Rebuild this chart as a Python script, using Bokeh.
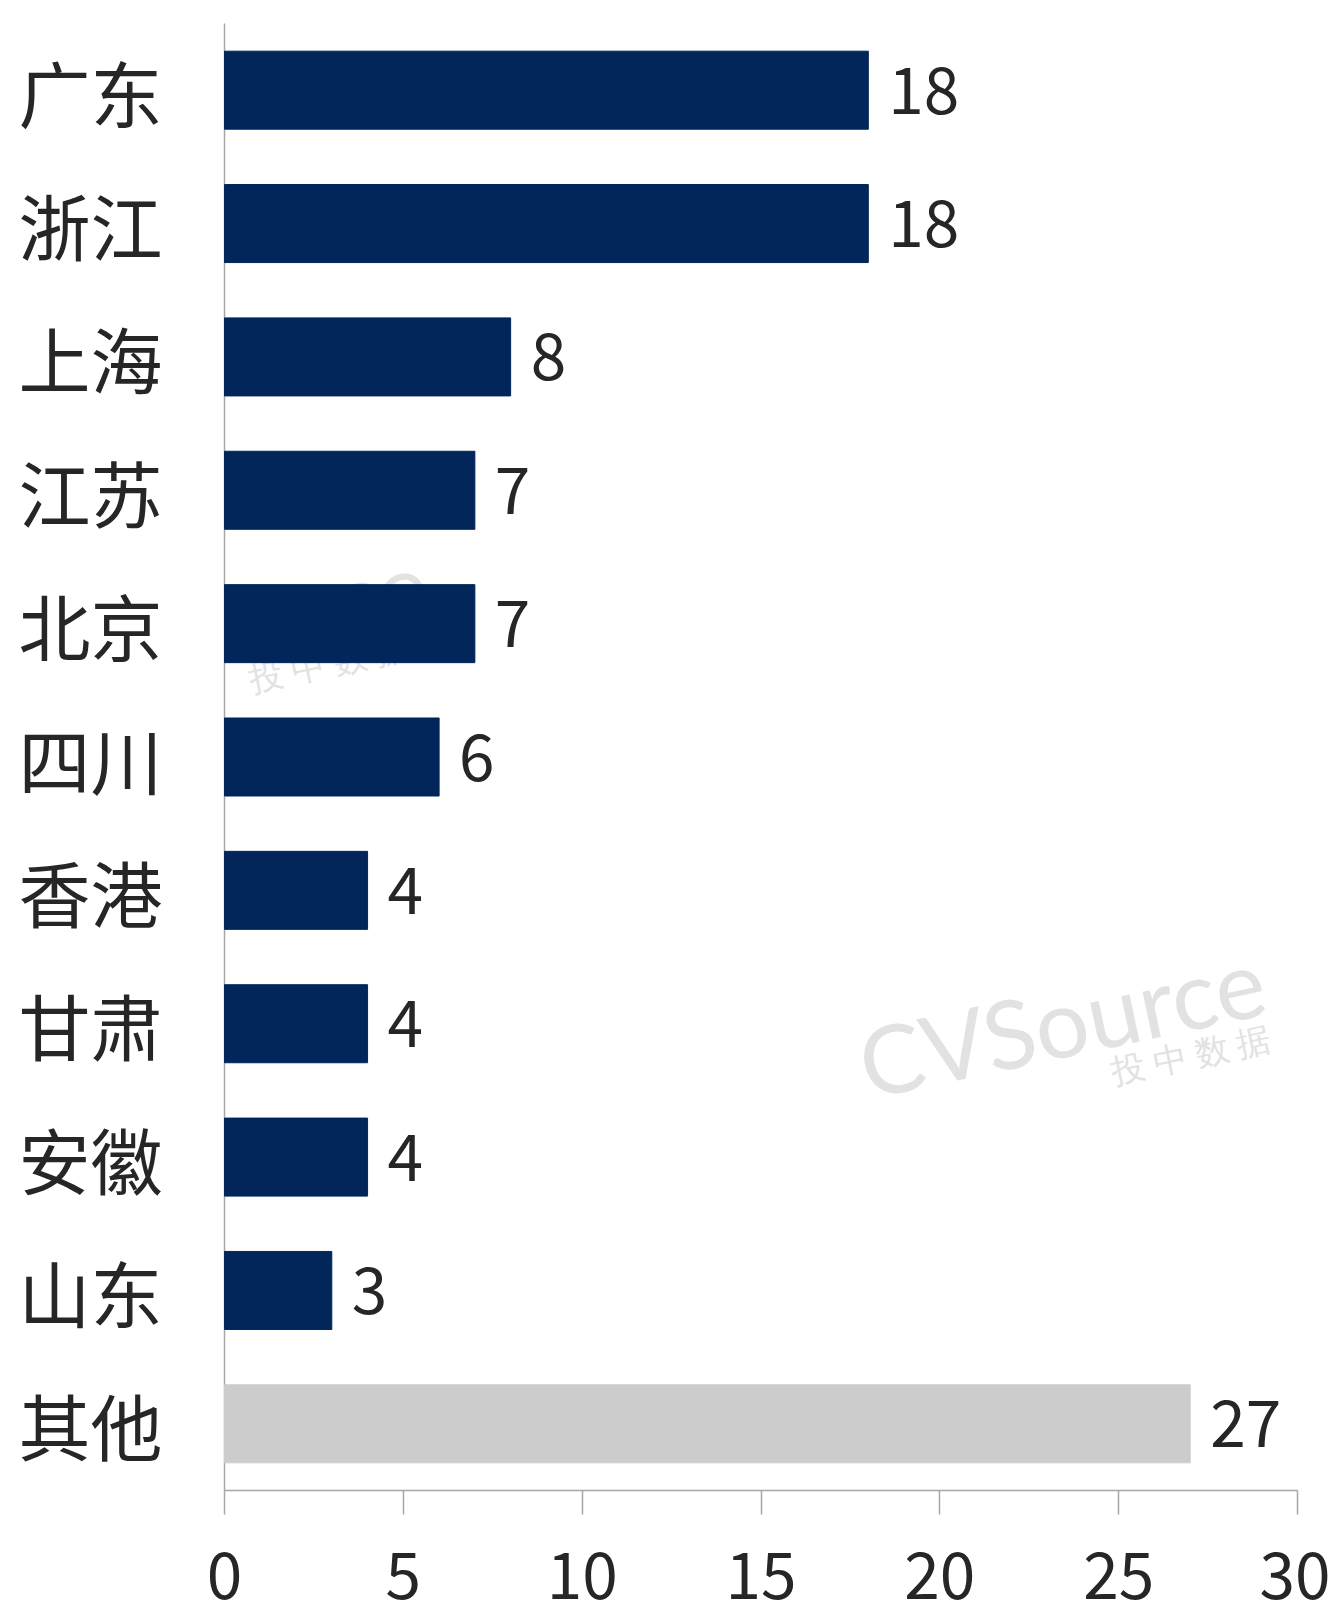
from bokeh.plotting import figure
from bokeh.models import FactorRange, Range1d, FixedTicker, Label, ColumnDataSource
from bokeh.core.properties import value
from bokeh.embed import file_html
from bokeh.resources import INLINE
import math

# ---- data ----
regions = ["广东", "浙江", "上海", "江苏", "北京", "四川", "香港", "甘肃", "安徽", "山东", "其他"]
counts = [18, 18, 8, 7, 7, 6, 4, 4, 4, 3, 27]
bar_colors = ["#02255A"] * 10 + ["#CCCCCC"]
x_ticks = [0, 5, 10, 15, 20, 25, 30]

FONT = "Noto Sans CJK SC"
W, H = 1330, 1619

p = figure(
    width=W, height=H,
    y_range=FactorRange(factors=list(reversed(regions)), range_padding=0),
    x_range=Range1d(0, 30),
    output_backend="svg", toolbar_location=None,
    min_border_left=224, min_border_top=23, min_border_right=33, min_border_bottom=129,
)
p.outline_line_color = None
p.xgrid.visible = False
p.ygrid.visible = False

# watermark (screen units are relative to the plot frame)
wm = dict(x_units="screen", y_units="screen", text_align="center", text_baseline="middle",
          text_color="#E2E2E2", text_font="Lato", level="annotation")
ang = math.radians(12)
p.add_layout(Label(x=837, y=470, text="CVSource", text_font_size="95px", angle=ang, **wm))
p.add_layout(Label(x=966, y=437, text="投 中 数 据", text_font_size="34px", angle=ang, **wm))
p.add_layout(Label(x=0, y=867, text="CVSource", text_font_size="95px", angle=ang, **wm))
p.add_layout(Label(x=104, y=829, text="投 中 数 据", text_font_size="34px", angle=ang, **wm))

src = ColumnDataSource(dict(region=regions, count=counts, color=bar_colors,
                            label=[str(c) for c in counts]))
bars = p.hbar(y="region", left=0, right="count", height=0.585, color="color", source=src)
bars.level = "overlay"
lbls = p.text(x="count", y="region", text="label", source=src, x_offset=20,
              text_baseline="middle", text_align="left", text_font=value(FONT),
              text_font_size="64px", text_color="#262626")
lbls.level = "overlay"

# axes
p.xaxis.ticker = FixedTicker(ticks=x_ticks)
p.xaxis.axis_line_color = "#A6A6A6"
p.xaxis.axis_line_width = 1.5
p.xaxis.major_tick_line_color = "#A6A6A6"
p.xaxis.major_tick_line_width = 1.5
p.xaxis.major_tick_out = 24
p.xaxis.major_tick_in = 0
p.xaxis.minor_tick_line_color = None
p.xaxis.major_label_text_font = FONT
p.xaxis.major_label_text_font_size = "64px"
p.xaxis.major_label_text_color = "#262626"
p.xaxis.major_label_standoff = 37

p.yaxis.axis_line_color = "#A6A6A6"
p.yaxis.axis_line_width = 1.5
p.yaxis.major_tick_line_color = None
p.yaxis.major_tick_out = 0
p.yaxis.major_tick_in = 0
p.yaxis.major_label_text_font = FONT
p.yaxis.major_label_text_font_size = "72px"
p.yaxis.major_label_text_color = "#262626"
p.yaxis.major_label_standoff = 62

open("out.html", "w").write(file_html(p, INLINE))
